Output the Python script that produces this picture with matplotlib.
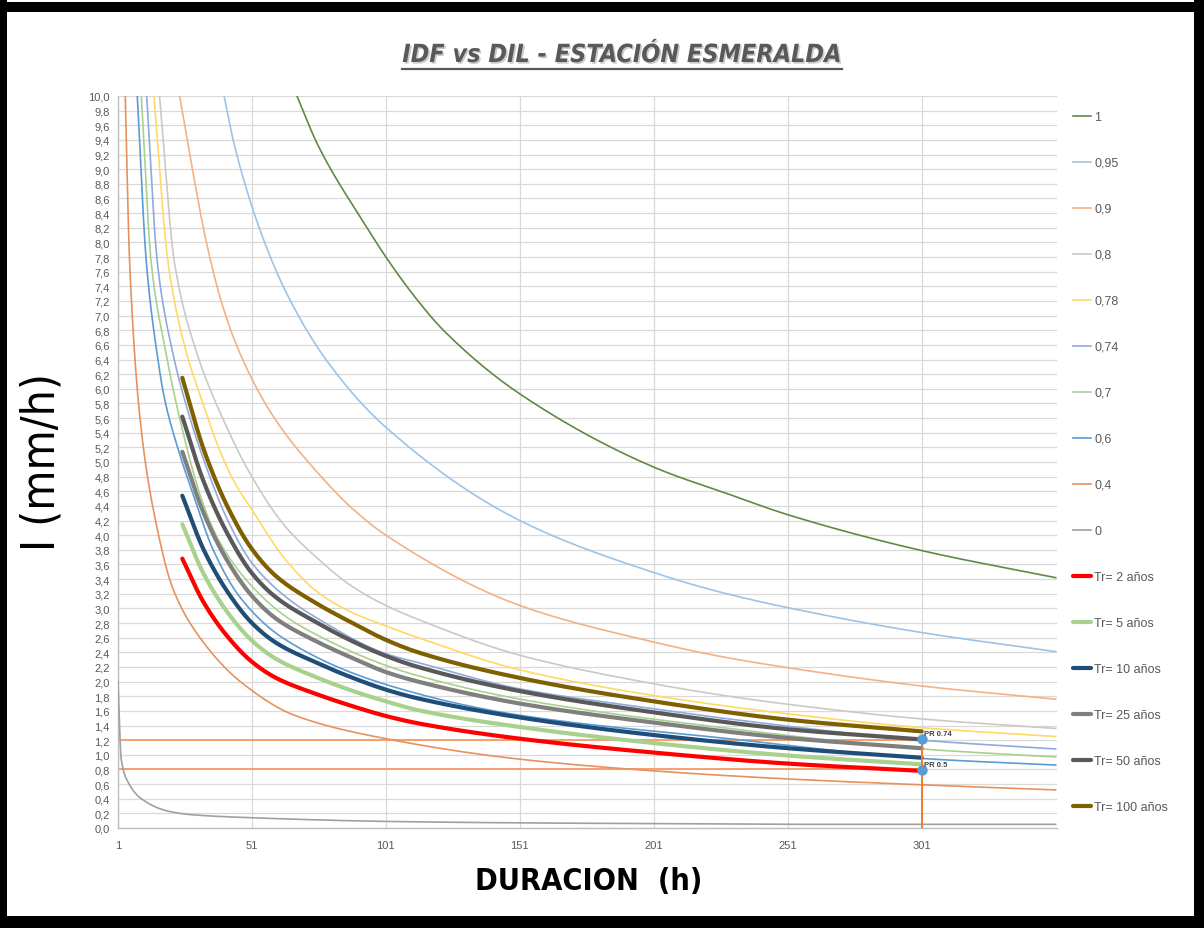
import matplotlib
matplotlib.use("Agg")
import numpy as np
import matplotlib.pyplot as plt
import matplotlib.patheffects as pe
from matplotlib.patches import Rectangle
from matplotlib.lines import Line2D
from matplotlib import font_manager
from matplotlib.font_manager import FontProperties

# ---------------- data ----------------
# DIL curves: durations (h) and intensities (mm/h)
D_1 = [67.8, 75.6, 94.3, 101, 113, 123, 151, 201, 229, 251, 301, 351]
I_1 = [10.0, 9.33, 8.18, 7.80, 7.20, 6.78, 5.93, 4.93, 4.56, 4.28, 3.79, 3.42]

D_095 = [40.6, 44.5, 53.9, 64.4, 79.4, 100.5, 151, 201, 225, 251, 301, 351]
I_095 = [10.0, 9.32, 8.18, 7.27, 6.36, 5.49, 4.20, 3.49, 3.23, 3.01, 2.67, 2.41]

D_09 = [24, 29, 34, 39.5, 45.2, 55, 63, 75.6, 88, 101, 151, 201, 225, 251, 301, 351]
I_09 = [10.0, 8.95, 8.00, 7.20, 6.60, 5.86, 5.41, 4.85, 4.38, 4.00, 3.04, 2.54, 2.35, 2.19, 1.94, 1.76]

D_08 = [16.5, 22.1, 29.6, 41.4, 50.8, 63.2, 75.6, 88, 101, 113, 151, 201, 229, 251, 301, 351]
I_08 = [10.0, 7.72, 6.58, 5.49, 4.81, 4.13, 3.68, 3.31, 3.04, 2.85, 2.36, 1.97, 1.80, 1.69, 1.49, 1.36]

D_078 = [14.4, 19.7, 25.9, 32.7, 38.3, 44.5, 50.8, 63.2, 75.6, 88, 101, 113, 151, 201, 251, 301, 351]
I_078 = [10.0, 7.72, 6.58, 5.80, 5.22, 4.72, 4.36, 3.68, 3.22, 2.95, 2.76, 2.60, 2.16, 1.81, 1.56, 1.37, 1.25]

D_074 = [11.7, 15.7, 20.9, 27.7, 33.3, 42, 50.8, 63.2, 75.6, 101, 113, 151, 201, 229, 301, 351]
I_074 = [10.0, 7.72, 6.58, 5.62, 5.00, 4.20, 3.63, 3.17, 2.86, 2.38, 2.26, 1.90, 1.63, 1.49, 1.20, 1.08]

D_07 = [9.7, 13.4, 18.4, 24, 32.1, 38.3, 50.8, 63.2, 75.6, 101, 113, 151, 229, 301, 351]
I_07 = [10.0, 7.72, 6.58, 5.60, 4.50, 3.95, 3.31, 2.90, 2.63, 2.22, 2.08, 1.76, 1.36, 1.08, 0.97]

D_06 = [8.2, 11.6, 15.7, 18.4, 23.4, 29.6, 36.4, 47, 63.2, 101, 151, 229, 301, 351]
I_06 = [10.0, 7.72, 6.45, 5.86, 5.18, 4.50, 3.81, 3.13, 2.58, 1.96, 1.54, 1.22, 0.95, 0.86]

D_04 = [3.7, 5.35, 9.5, 15.4, 21.6, 32.8, 47, 66.9, 101, 151, 201, 251, 301, 351]
I_04 = [10.0, 7.72, 5.50, 4.13, 3.26, 2.54, 1.99, 1.54, 1.22, 0.94, 0.78, 0.67, 0.59, 0.52]

D_0 = [1, 2.2, 4.7, 9.7, 19.7, 29, 51, 101, 151, 201, 251, 301, 351]
I_0 = [2.0, 0.94, 0.63, 0.40, 0.23, 0.18, 0.14, 0.09, 0.07, 0.06, 0.05, 0.05, 0.05]

# IDF curves (return periods)
D_TR = [25, 33, 42, 51, 60, 75, 88, 101, 113, 151, 201, 251, 301]
I_TR2 = [3.68, 3.08, 2.61, 2.27, 2.05, 1.83, 1.67, 1.53, 1.43, 1.22, 1.03, 0.88, 0.78]
I_TR5 = [4.15, 3.47, 2.94, 2.56, 2.31, 2.06, 1.88, 1.73, 1.61, 1.38, 1.16, 0.99, 0.87]
I_TR10 = [4.54, 3.80, 3.22, 2.80, 2.53, 2.26, 2.06, 1.89, 1.77, 1.51, 1.27, 1.09, 0.96]
I_TR25 = [5.14, 4.30, 3.64, 3.17, 2.86, 2.55, 2.33, 2.13, 2.00, 1.70, 1.44, 1.23, 1.09]
I_TR50 = [5.62, 4.73, 4.01, 3.48, 3.15, 2.81, 2.56, 2.35, 2.20, 1.87, 1.58, 1.35, 1.21]
I_TR100 = [6.15, 5.17, 4.38, 3.81, 3.44, 3.07, 2.81, 2.57, 2.40, 2.05, 1.73, 1.48, 1.32]

DIL_LABELS = ["1", "0,95", "0,9", "0,8", "0,78", "0,74", "0,7", "0,6", "0,4", "0"]
TR_LABELS = ["Tr= 2 años", "Tr= 5 años", "Tr= 10 años", "Tr= 25 años", "Tr= 50 años", "Tr= 100 años"]

REF_LEVELS = [1.2, 0.8]
REF_D = [1, 301]
PR_D = [301, 301]
PR_I = [1.21, 0.79]
PR_LABELS = ["PR 0.74", "PR 0.5"]

X_TICKS = [1, 51, 101, 151, 201, 251, 301]


# ---------------- helpers ----------------
def smooth(x, y, n=24):
    """Smoothed line through the read points (monotone cubic, like Excel's smoothed line)."""
    x = np.asarray(x, float)
    y = np.asarray(y, float)
    h = np.diff(x)
    dl = np.diff(y) / h
    m = np.zeros_like(y)
    for k in range(1, len(x) - 1):
        if dl[k - 1] * dl[k] > 0:
            w1 = 2 * h[k] + h[k - 1]
            w2 = h[k] + 2 * h[k - 1]
            m[k] = (w1 + w2) / (w1 / dl[k - 1] + w2 / dl[k])
    m[0] = dl[0]
    m[-1] = dl[-1]
    xs, ys = [], []
    for k in range(len(x) - 1):
        t = np.linspace(0, 1, n, endpoint=False)
        h00 = 2 * t**3 - 3 * t**2 + 1
        h10 = t**3 - 2 * t**2 + t
        h01 = -2 * t**3 + 3 * t**2
        h11 = t**3 - t**2
        xs.append(x[k] + t * h[k])
        ys.append(h00 * y[k] + h10 * h[k] * m[k] + h01 * y[k + 1] + h11 * h[k] * m[k + 1])
    xs.append([x[-1]])
    ys.append([y[-1]])
    return np.concatenate(xs), np.concatenate(ys)


def find_font(cands):
    files = {f.fname.split('/')[-1].lower(): f.fname for f in font_manager.fontManager.ttflist}
    for c in cands:
        if c.lower() in files:
            return files[c.lower()]
    return None


f_bold_narrow = find_font(["LiberationSansNarrow-Bold.ttf", "DejaVuSansCondensed-Bold.ttf"])
f_bi_narrow = find_font(["LiberationSansNarrow-BoldItalic.ttf", "DejaVuSansCondensed-BoldOblique.ttf"])
f_reg_narrow = find_font(["LiberationSansNarrow-Regular.ttf", "DejaVuSansCondensed.ttf"])


def fp(fname, size, **fallback):
    if fname:
        return FontProperties(fname=fname, size=size)
    return FontProperties(family=['Liberation Sans', 'DejaVu Sans'], size=size * 0.85, **fallback)


plt.rcParams['font.family'] = ['Liberation Sans', 'DejaVu Sans']

W, H = 1204, 929
fig = plt.figure(figsize=(W / 100, H / 100), dpi=100)
L, R, T, B = 118, 1057, 97, 829
ax = fig.add_axes([L / W, 1 - B / H, (R - L) / W, (B - T) / H])

dil_series = [(D_1, I_1, "#5f8a45"), (D_095, I_095, "#9dc3e6"), (D_09, I_09, "#f4b183"),
              (D_08, I_08, "#c9c9c9"), (D_078, I_078, "#ffd966"), (D_074, I_074, "#8faadc"),
              (D_07, I_07, "#a9d18e"), (D_06, I_06, "#5b9bd5"), (D_04, I_04, "#e8915b"),
              (D_0, I_0, "#a0a0a0")]
tr_series = [(I_TR2, "#ff0000"), (I_TR5, "#a9d18e"), (I_TR10, "#1f4e79"),
             (I_TR25, "#7f7f7f"), (I_TR50, "#595959"), (I_TR100, "#7f6000")]

handles = []
for (d, i, c), lab in zip(dil_series, DIL_LABELS):
    xs, ys = smooth(d, i)
    h, = ax.plot(xs, ys, color=c, lw=1.2, label=lab, zorder=3)
    handles.append(h)
for (i, c), lab in zip(tr_series, TR_LABELS):
    xs, ys = smooth(D_TR, i)
    h, = ax.plot(xs, ys, color=c, lw=3.0, label=lab, solid_capstyle='round', zorder=4)
    handles.append(h)

for lv in REF_LEVELS:
    ax.plot(REF_D, [lv, lv], color="#f4a06c", lw=1.4, zorder=2.5)
ax.plot([PR_D[0], PR_D[0]], [0, PR_I[0]], color="#ed7d31", lw=1.4, zorder=5)
ax.plot(PR_D, PR_I, linestyle='none', marker='o', ms=6.5, color="#5b9bd5", zorder=6)
for d, i, lab in zip(PR_D, PR_I, PR_LABELS):
    ax.annotate(lab, (d, i), xytext=(2, 3), textcoords='offset points', fontsize=5.5,
                fontweight='bold', color='#404040', zorder=7)

ax.set_xlim(1, 351.5)
ax.set_ylim(0, 10)
ax.set_xticks(X_TICKS)
ax.set_xticklabels([str(x) for x in X_TICKS])
yt = [round(k * 0.2, 1) for k in range(51)]
ax.set_yticks(yt)
ax.set_yticklabels([f"{v:.1f}".replace('.', ',') for v in yt])
ax.tick_params(axis='both', length=0, labelsize=8, labelcolor='#595959', pad=6)
ax.tick_params(axis='x', pad=9)
ax.grid(True, color='#d9d9d9', lw=0.9, zorder=0)
ax.set_axisbelow(True)
for s in ['top', 'right']:
    ax.spines[s].set_visible(False)
for s in ['left', 'bottom']:
    ax.spines[s].set_color('#bfbfbf')
    ax.spines[s].set_linewidth(1.0)

# titles
title = fig.text(622 / W, 1 - 56 / H, "IDF vs DIL - ESTACIÓN ESMERALDA", ha='center', va='center',
                 fontproperties=fp(f_bi_narrow, 18, weight='bold', style='italic'), color='#595959',
                 path_effects=[pe.withSimplePatchShadow(offset=(1.2, -1.2), shadow_rgbFace='#999999', alpha=0.5)])
fig.text(589 / W, 1 - 882 / H, "DURACION  (h)", ha='center', va='center',
         fontproperties=fp(f_bold_narrow, 22, weight='bold'), color='black')
fig.text(42 / W, 1 - 462 / H, "I (mm/h)", ha='center', va='center', rotation=90,
         fontproperties=fp(f_reg_narrow, 33), color='black')

leg = fig.legend(handles=handles, loc='upper left', bbox_to_anchor=(1073 / W, 1 - 112 / H),
                 frameon=False, fontsize=9, labelcolor='#595959', handlelength=1.4,
                 handletextpad=0.3, labelspacing=2.72, borderpad=0, borderaxespad=0)

# underline the title
fig.canvas.draw()
bb = title.get_window_extent()
fig.add_artist(Line2D([bb.x0 / W, bb.x1 / W], [(bb.y0 - 2) / H, (bb.y0 - 2) / H],
                      color='#595959', lw=1.6, transform=fig.transFigure))

# black frame
for (x0, y0, w, h) in [(0, 3, W, 10), (0, 0, 7, H), (1194, 0, 10, H), (0, 917, W, 12)]:
    fig.patches.append(Rectangle((x0 / W, 1 - (y0 + h) / H), w / W, h / H, transform=fig.transFigure,
                                 facecolor='black', edgecolor='none', zorder=10))

fig.savefig("out.png", dpi=100)
